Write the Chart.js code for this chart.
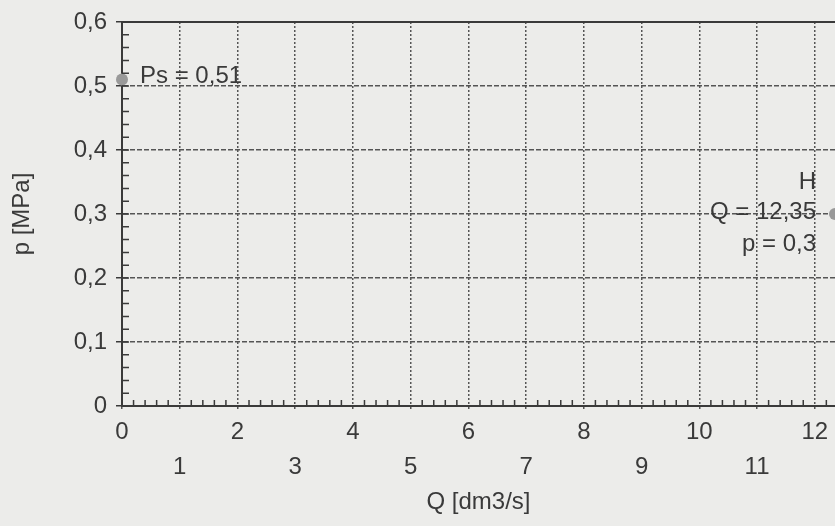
<!DOCTYPE html>
<html>
<head>
<meta charset="utf-8">
<script src="https://cdn.jsdelivr.net/npm/chart.js@4/dist/chart.umd.min.js"></script>
<style>
  html, body { margin: 0; padding: 0; background: #ececea; }
  #wrap { width: 835px; height: 526px; }
</style>
</head>
<body>
<div id="wrap"><canvas id="pq"></canvas></div>
<script>
const pointNames = ['Ps', 'H']
const flowQ = [0, 12.35]
const pressureP = [0.51, 0.3]

const xMin = 0
const xMax = 12.35
const yMin = 0
const yMax = 0.6

const ink = '#3a3a3a'
const gridInk = '#555'
const font = { family: '"Liberation Sans", Arial, sans-serif', size: 24 }

const commaNum = v => (Math.round(v * 100) / 100).toString().replace('.', ',')

// short inner ticks between the main ones
const minorTicks = {
  id: 'minorTicks',
  afterDraw(chart) {
    const { ctx, chartArea } = chart
    const xs = chart.scales.x
    const ys = chart.scales.y
    ctx.save()
    ctx.strokeStyle = ink
    ctx.lineWidth = 1.5
    ctx.beginPath()
    for (let i = 1; i * 0.2 < xMax; i++) {
      if (i % 5 === 0) continue
      const px = xs.getPixelForValue(i * 0.2)
      ctx.moveTo(px, chartArea.bottom)
      ctx.lineTo(px, chartArea.bottom - 6)
    }
    for (let i = 1; i * 0.02 < yMax; i++) {
      const py = ys.getPixelForValue(i * 0.02)
      ctx.moveTo(chartArea.left, py)
      ctx.lineTo(chartArea.left + 7, py)
    }
    ctx.stroke()
    // solid top frame
    ctx.lineWidth = 2
    ctx.beginPath()
    ctx.moveTo(chartArea.left, chartArea.top)
    ctx.lineTo(chartArea.right, chartArea.top)
    ctx.stroke()
    ctx.restore()
  }
}

const pointLabels = {
  id: 'pointLabels',
  afterDatasetsDraw(chart) {
    const { ctx } = chart
    const pts = chart.getDatasetMeta(0).data
    ctx.save()
    ctx.fillStyle = ink
    ctx.font = font.size + 'px ' + font.family
    ctx.textBaseline = 'middle'
    // Ps
    ctx.textAlign = 'left'
    ctx.fillText(pointNames[0] + ' = ' + commaNum(pressureP[0]), pts[0].x + 18, pts[0].y - 3)
    // H
    ctx.textAlign = 'right'
    const hx = pts[1].x - 19
    ctx.fillText(pointNames[1], hx, pts[1].y - 32)
    ctx.fillText('Q = ' + commaNum(flowQ[1]), hx, pts[1].y - 2)
    ctx.fillText('p = ' + commaNum(pressureP[1]), hx, pts[1].y + 30)
    ctx.restore()
  }
}

new Chart(document.getElementById('pq'), {
  type: 'scatter',
  data: {
    datasets: [{
      data: flowQ.map((q, i) => ({ x: q, y: pressureP[i] })),
      backgroundColor: '#999',
      borderWidth: 0,
      pointRadius: 6,
      pointHoverRadius: 6,
      clip: false
    }]
  },
  options: {
    responsive: true,
    maintainAspectRatio: false,
    animation: false,
    layout: { autoPadding: false, padding: { top: 22, right: 0, left: 0, bottom: 0 } },
    plugins: {
      legend: { display: false },
      tooltip: { enabled: false }
    },
    scales: {
      x: {
        type: 'linear',
        min: xMin,
        max: xMax,
        afterFit(scale) {
          scale.height = 120
          scale.paddingLeft = 0
          scale.paddingRight = 0
        },
        ticks: {
          stepSize: 1,
          includeBounds: false,
          maxRotation: 0,
          autoSkip: false,
          color: ink,
          font: { ...font, lineHeight: 1.46 },
          padding: 4,
          callback: v => (v % 2 === 0 ? [String(v)] : ['', String(v)])
        },
        grid: {
          color: gridInk,
          lineWidth: 1.5,
          tickLength: 5,
          tickColor: gridInk,
          tickBorderDash: [2, 2]
        },
        border: { color: ink, width: 2, dash: [2, 2] },
        title: {
          display: true,
          text: 'Q [dm3/s]',
          color: ink,
          font,
          padding: { top: 0, bottom: 9 }
        }
      },
      y: {
        min: yMin,
        max: yMax,
        afterFit(scale) {
          scale.width = 122
          scale.paddingTop = 0
          scale.paddingBottom = 0
        },
        ticks: {
          stepSize: 0.1,
          color: ink,
          font,
          padding: 5,
          callback: v => commaNum(v)
        },
        grid: {
          color: gridInk,
          lineWidth: 1.5,
          tickLength: 10,
          tickColor: ink,
          tickBorderDash: [6, 4],
          tickBorderDashOffset: 6
        },
        border: { color: ink, width: 2, dash: [5, 2] },
        title: {
          display: true,
          text: 'p [MPa]',
          color: ink,
          font,
          padding: { top: 8, bottom: 0 }
        }
      }
    }
  },
  plugins: [minorTicks, pointLabels]
})
</script>
</body>
</html>
